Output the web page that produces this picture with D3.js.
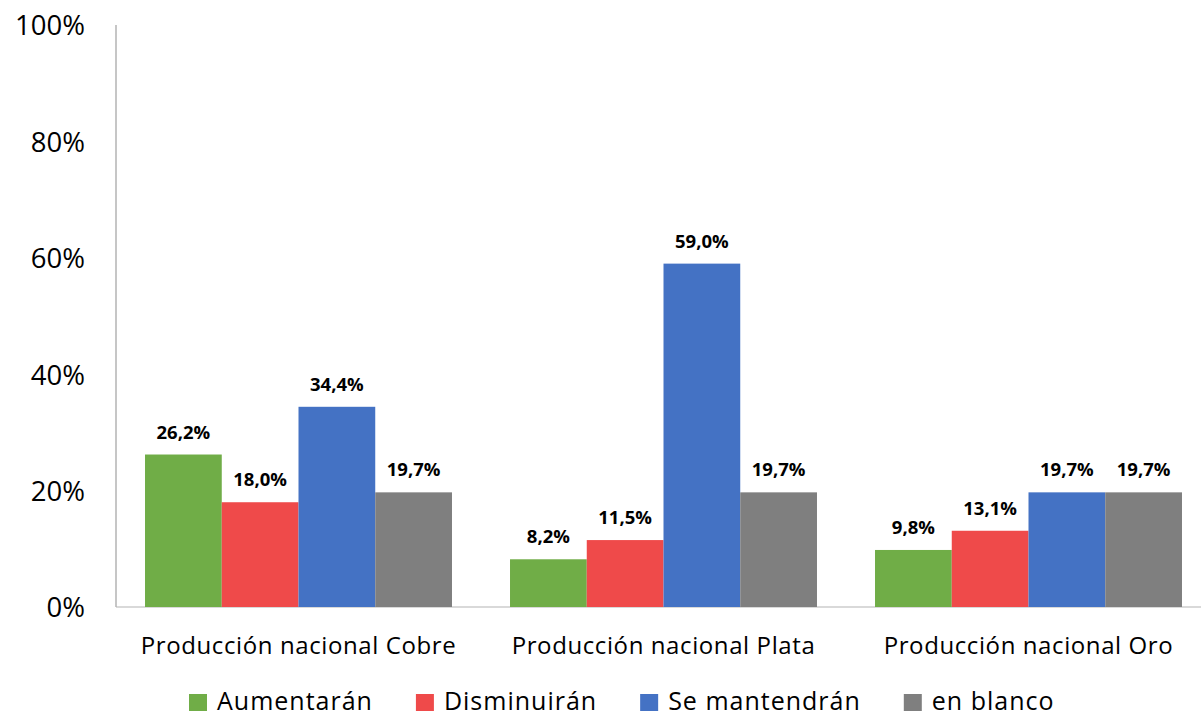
<!DOCTYPE html>
<html>
<head>
<meta charset="utf-8">
<script src="https://cdn.jsdelivr.net/npm/d3@7"></script>
<style>
  body { margin: 0; background: #fff; }
  svg { display: block; font-family: "Open Sans", sans-serif; }
</style>
</head>
<body>
<svg id="chart" width="1201" height="718"></svg>
<script>
// datos
const categories = ["Producción nacional Cobre", "Producción nacional Plata", "Producción nacional Oro"];
const seriesNames = ["Aumentarán", "Disminuirán", "Se mantendrán", "en blanco"];
const seriesColors = ["#70ad47", "#ef4a4a", "#4472c4", "#7f7f7f"];
const aumentaran = [26.2, 8.2, 9.8];
const disminuiran = [18.0, 11.5, 13.1];
const seMantendran = [34.4, 59.0, 19.7];
const enBlanco = [19.7, 19.7, 19.7];
const yTicks = [0, 20, 40, 60, 80, 100];

const seriesValues = [aumentaran, disminuiran, seMantendran, enBlanco];

const svg = d3.select("#chart");

const x0 = 116, y0 = 607, yTop = 25;

const x = d3.scaleBand()
    .domain(categories)
    .range([x0, 1211])
    .paddingInner(0.159)
    .paddingOuter(0.0795);

const xs = d3.scaleBand()
    .domain(seriesNames)
    .range([0, x.bandwidth()]);

const y = d3.scaleLinear()
    .domain([0, 100])
    .range([y0, yTop]);

// ejes
svg.append("line")
    .attr("x1", x0).attr("x2", 1201)
    .attr("y1", y0).attr("y2", y0)
    .attr("stroke", "#d9d9d9").attr("stroke-width", 2);

svg.append("line")
    .attr("x1", x0).attr("x2", x0)
    .attr("y1", yTop).attr("y2", y0)
    .attr("stroke", "#b3b3b3").attr("stroke-width", 1.5);

const yAxis = d3.axisLeft(y)
    .tickValues(yTicks)
    .tickFormat(d => d + "%")
    .tickSize(0)
    .tickPadding(0);

svg.append("g")
    .attr("transform", "translate(85,0)")
    .call(yAxis)
    .call(g => g.select(".domain").remove())
    .selectAll("text")
    .attr("font-family", "Open Sans")
    .attr("font-size", 27.5)
    .attr("fill", "#000")
    .attr("dy", "0.36em");

// barras
const rows = [];
categories.forEach((c, i) => {
    seriesNames.forEach((s, j) => {
        rows.push({ cat: c, serie: s, value: seriesValues[j][i], color: seriesColors[j] });
    });
});

svg.selectAll(".bar")
    .data(rows)
    .enter().append("rect")
    .attr("class", "bar")
    .attr("x", d => x(d.cat) + xs(d.serie))
    .attr("width", xs.bandwidth())
    .attr("y", d => y(d.value))
    .attr("height", d => y0 - y(d.value))
    .attr("fill", d => d.color);

svg.selectAll(".lbl")
    .data(rows)
    .enter().append("text")
    .attr("class", "lbl")
    .attr("x", d => x(d.cat) + xs(d.serie) + xs.bandwidth() / 2)
    .attr("y", d => y(d.value) - 16)
    .attr("text-anchor", "middle")
    .attr("font-size", 18.5)
    .attr("font-weight", "bold")
    .attr("fill", "#000")
    .text(d => d.value.toFixed(1).replace(".", ",") + "%");

// categorias
svg.selectAll(".cat")
    .data(categories)
    .enter().append("text")
    .attr("class", "cat")
    .attr("x", d => x(d) + x.bandwidth() / 2)
    .attr("y", 654)
    .attr("text-anchor", "middle")
    .attr("font-size", 24)
    .attr("letter-spacing", 0.6)
    .attr("fill", "#000")
    .text(d => d);

// leyenda
let lx = 189;
seriesNames.forEach((s, j) => {
    svg.append("rect")
        .attr("x", lx).attr("y", 694)
        .attr("width", 18).attr("height", 17)
        .attr("fill", seriesColors[j]);
    const t = svg.append("text")
        .attr("x", lx + 28)
        .attr("y", 710)
        .attr("font-size", 25)
        .attr("letter-spacing", 1)
        .attr("fill", "#000")
        .text(s);
    lx += 28 + t.node().getComputedTextLength() + 43;
});
</script>
</body>
</html>
